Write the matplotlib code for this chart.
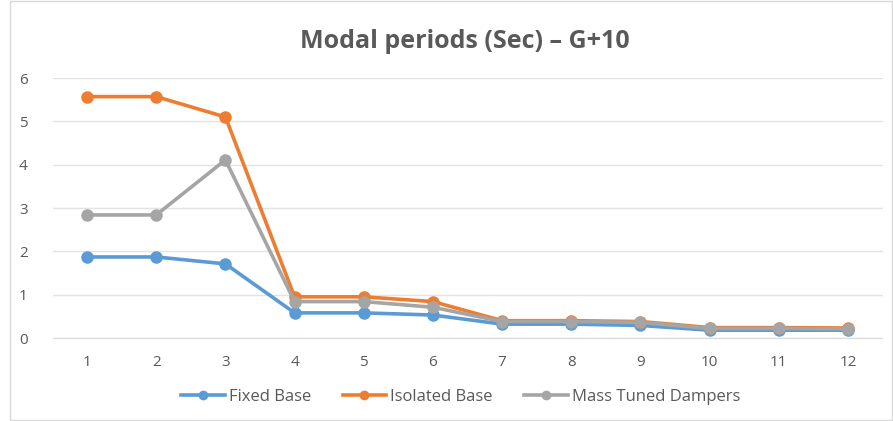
import matplotlib.pyplot as plt
from matplotlib.patches import Rectangle
import numpy as np

plt.rcParams["font.family"] = ["Open Sans", "DejaVu Sans"]

modes = ["1", "2", "3", "4", "5", "6", "7", "8", "9", "10", "11", "12"]
fixed_base = [1.87, 1.87, 1.71, 0.58, 0.58, 0.53, 0.32, 0.32, 0.29, 0.18, 0.18, 0.18]
isolated_base = [5.57, 5.57, 5.10, 0.95, 0.95, 0.84, 0.40, 0.40, 0.38, 0.24, 0.24, 0.23]
mass_tuned = [2.84, 2.84, 4.11, 0.84, 0.84, 0.71, 0.38, 0.38, 0.36, 0.22, 0.22, 0.21]

fig = plt.figure(figsize=(8.93, 4.21), dpi=100)
ax = fig.add_axes([52.5 / 893, 1 - 338 / 421, (882.5 - 52.5) / 893, 260 / 421])

# chart frame
fig.patches.append(Rectangle((10 / 893, 0.002), 882 / 893, 0.996, transform=fig.transFigure,
                             fill=False, edgecolor="#D9D9D9", linewidth=1))

x = np.arange(len(modes))
series = [
    ("Fixed Base", fixed_base, "#5B9BD5"),
    ("Isolated Base", isolated_base, "#ED7D31"),
    ("Mass Tuned Dampers", mass_tuned, "#A5A5A5"),
]
for name, vals, color in series:
    ax.plot(x, vals, "-o", color=color, label=name, linewidth=2.6, markersize=8)

ax.set_xlim(-0.5, len(modes) - 0.5)
ax.set_ylim(0, 6)
ax.set_xticks(x)
ax.set_xticklabels(modes)
ax.set_yticks(range(7))
ax.grid(axis="y", color="#E3E3E3", linewidth=1)
ax.set_axisbelow(True)
for s in ax.spines.values():
    s.set_visible(False)
ax.spines["bottom"].set_visible(True)
ax.spines["bottom"].set_color("#D9D9D9")
ax.tick_params(length=0, labelcolor="#595959", labelsize=11)
ax.tick_params(axis="x", pad=12)
ax.tick_params(axis="y", pad=18)

fig.text(0.521, 1 - 42 / 421, "Modal periods (Sec) \u2013 G+10", ha="center", va="center",
         fontsize=18, fontweight="bold", color="#595959")

fig.legend(loc="center", bbox_to_anchor=(0.516, 1 - 397 / 421), ncol=3, frameon=False,
           fontsize=12, labelcolor="#595959", handlelength=2.6, columnspacing=1.9,
           handletextpad=0.25, markerscale=0.75)

fig.savefig("out.png", dpi=100)
